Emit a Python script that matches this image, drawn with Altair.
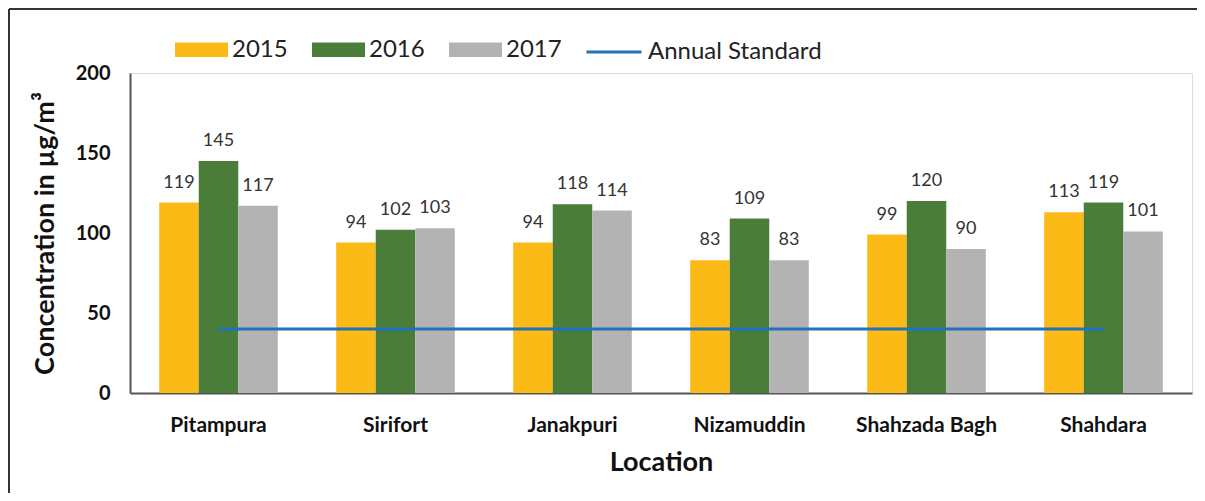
import altair as alt
import pandas as pd

locations = ["Pitampura", "Sirifort", "Janakpuri", "Nizamuddin", "Shahzada Bagh", "Shahdara"]
years = ["2015", "2016", "2017"]
v2015 = [119, 94, 94, 83, 99, 113]
v2016 = [145, 102, 118, 109, 120, 119]
v2017 = [117, 103, 114, 83, 90, 101]
standard_value = 40
standard_name = "Annual Standard"
colors = ["#FBBA15", "#4A7D3A", "#B3B3B3"]
line_color = "#2072BA"

rows = []
for yr, vals in zip(years, [v2015, v2016, v2017]):
    for loc, v in zip(locations, vals):
        rows.append({"Location": loc, "Year": yr, "Value": v})
df = pd.DataFrame(rows)
std_df = pd.DataFrame({"Location": locations, "Value": [standard_value] * len(locations),
                       "Series": [standard_name] * len(locations)})

FONT = "Lato"
W, H = 1062, 320

xenc = alt.X("Location:N", sort=locations,
             scale=alt.Scale(paddingInner=0.33, paddingOuter=0.165),
             axis=alt.Axis(title="Location", labelAngle=0, ticks=False, labelPadding=21,
                           labelFont=FONT, labelFontSize=21, labelFontWeight="bold", labelColor="#111",
                           titleFont=FONT, titleFontSize=27, titleFontWeight="bold", titleColor="#111",
                           titlePadding=14, domainColor="#555", domainWidth=2))
yenc = alt.Y("Value:Q", scale=alt.Scale(domain=[0, 200]),
             axis=alt.Axis(title="Concentration in µg/m³", values=[0, 50, 100, 150, 200], grid=False,
                           ticks=False, labelPadding=20, labelFont=FONT, labelFontSize=20,
                           labelFontWeight="bold", labelColor="#111",
                           titleFont=FONT, titleFontSize=27, titleFontWeight="bold", titleColor="#111",
                           titleX=-85, titleY=H / 2, titleAngle=270, titleAlign="center",
                           titleBaseline="middle", domainColor="#555", domainWidth=2))

base = alt.Chart(df)
bars = base.mark_bar().encode(
    x=xenc, y=yenc,
    xOffset=alt.XOffset("Year:N", sort=years, scale=alt.Scale(paddingInner=0, paddingOuter=0)),
    fill=alt.Fill("Year:N", sort=years, scale=alt.Scale(domain=years, range=colors),
                  legend=alt.Legend(orient="none", legendX=45, legendY=-50, direction="horizontal",
                                    title=None, symbolType="M-1,-0.27L1,-0.27L1,0.27L-1,0.27Z",
                                    symbolSize=2809, symbolStrokeWidth=0, labelFont=FONT,
                                    labelFontSize=24, labelColor="#222", labelOffset=4,
                                    columnPadding=24)),
)
labels = base.mark_text(baseline="alphabetic", dy=-15, font=FONT, fontSize=18, color="#333").encode(
    x=alt.X("Location:N", sort=locations),
    xOffset=alt.XOffset("Year:N", sort=years),
    y="Value:Q",
    text="Value:Q",
)
line = alt.Chart(std_df).mark_line(strokeWidth=3).encode(
    x=alt.X("Location:N", sort=locations),
    y="Value:Q",
    stroke=alt.Stroke("Series:N", scale=alt.Scale(domain=[standard_name], range=[line_color]),
                      legend=alt.Legend(orient="none", legendX=455, legendY=-50, title=None,
                                        symbolType="stroke", symbolSize=3025, symbolStrokeWidth=3,
                                        labelFont=FONT, labelFontSize=24, labelColor="#222",
                                        labelOffset=5, labelLimit=0)),
)
frame_df = pd.DataFrame({"f": [0]})
frame_top = alt.Chart(frame_df).mark_rule(stroke="#333", strokeWidth=2).encode(
    x=alt.value(-121), x2=alt.value(W + 60), y=alt.value(-64)
)
frame_left = alt.Chart(frame_df).mark_rule(stroke="#333", strokeWidth=2).encode(
    x=alt.value(-121), y=alt.value(-64), y2=alt.value(H + 200)
)

chart = alt.layer(frame_top, frame_left, bars, line, labels).properties(
    width=W, height=H,
    autosize=alt.AutoSizeParams(type="none"),
    padding={"left": 122, "top": 65, "right": 5, "bottom": 100},
).configure_view(stroke=None).configure(background="white")

chart.save("out.html", embed_options={"renderer": "svg", "actions": False})
